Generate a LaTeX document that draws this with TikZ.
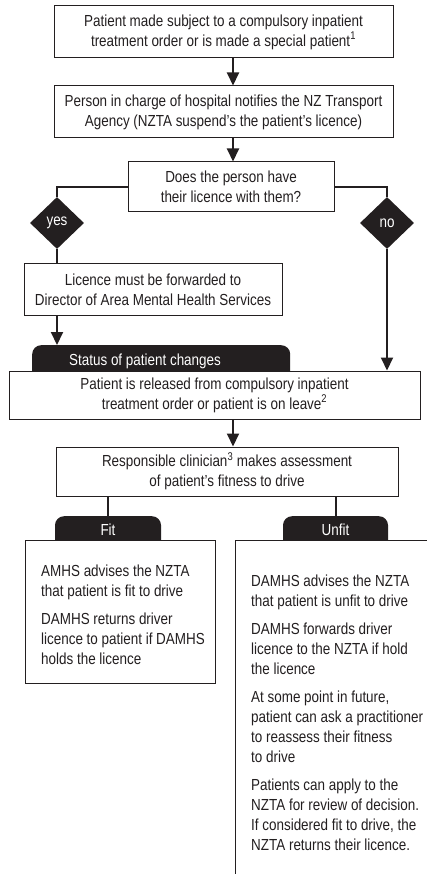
\documentclass[tikz,border=0pt]{standalone}
\usepackage{fontspec}
\setmainfont{Liberation Sans}[FakeStretch=0.84]
\usetikzlibrary{arrows.meta,shapes.geometric}
\definecolor{inkdark}{HTML}{231F20}
\newcommand\flowfont{\fontsize{16}{20}\selectfont}

\begin{document}
\begin{tikzpicture}[x=1pt,y=-1pt,>={Triangle[width=12pt,length=13pt]},
    box/.style={draw=inkdark,line width=1pt,fill=white,align=center,inner sep=0pt,text=inkdark,font=\flowfont},
    decision/.style={diamond,fill=inkdark,text=white,minimum width=54pt,minimum height=52pt,inner sep=0pt,font=\flowfont},
    tab/.style={fill=inkdark,text=white,rounded corners=9pt,inner ysep=0pt,font=\flowfont},
    listtext/.style={align=left,inner sep=0pt,text=inkdark,font=\flowfont},
    link/.style={draw=inkdark,line width=2pt}]

        % Page frame (pixels of the reference, y downwards)
        \useasboundingbox (0,0) rectangle (427,874);
        \clip (0,0) rectangle (427,874);
        \coordinate (axis) at (233,0);

        % Main column
        \node[box,minimum width=339pt,minimum height=52pt] (order) at (223.5,32)
            {Patient made subject to a compulsory inpatient\\treatment order or is made a special patient\textsuperscript{1}};
        \node[box,minimum width=339pt,minimum height=52pt] (notify) at (223.5,112)
            {Person in charge of hospital notifies the NZ Transport\\Agency (NZTA suspend’s the patient’s licence)};
        \node[box,minimum width=206pt,minimum height=50pt] (query) at (231,187)
            {Does the person have\\their licence with them?};

        % Decisions
        \node[decision] (yes) at (57,223) {yes};
        \node[decision] (no) at (387,223) {no};

        \node[box,minimum width=258pt,minimum height=51pt] (forward) at (153,289.5)
            {Licence must be forwarded to\\Director of Area Mental Health Services};

        % Tab drawn first, box covers its lower part
        \node[tab,anchor=north west,text width=184pt,align=flush left,inner xsep=37pt,
              text height=20pt,text depth=20pt] (status) at (32,345) {Status of patient changes};
        \node[box,minimum width=411pt,minimum height=48pt] (release) at (214.5,395)
            {Patient is released from compulsory inpatient\\treatment order or patient is on leave\textsuperscript{2}};

        \node[box,minimum width=342pt,minimum height=49pt] (assess) at (227,471.5)
            {Responsible clinician\textsuperscript{3} makes assessment\\of patient’s fitness to drive};

        % Outcomes
        \node[tab,anchor=north,minimum width=106pt,text height=19pt,text depth=16pt] (fit) at (108,516) {Fit};
        \node[tab,anchor=north,minimum width=105pt,text height=19pt,text depth=16pt] (unfit) at (335.5,516) {Unfit};
        \node[box,anchor=north west,minimum width=190pt,minimum height=143pt] (fitbox) at (25,540) {};
        \node[box,anchor=north west,minimum width=200pt,minimum height=350pt] (unfitbox) at (235,540) {};

        \node[listtext,anchor=north west] (fittext) at (41,565)
            {AMHS advises the NZTA\\that patient is fit to drive\\[8pt]
             DAMHS returns driver\\licence to patient if DAMHS\\holds the licence};
        \node[listtext,anchor=north west] (unfittext) at (251,575)
            {DAMHS advises the NZTA\\that patient is unfit to drive\\[8pt]
             DAMHS forwards driver\\licence to the NZTA if hold\\the licence\\[8pt]
             At some point in future,\\patient can ask a practitioner\\to reassess their fitness\\to drive\\[8pt]
             Patients can apply to the\\NZTA for review of decision.\\If considered fit to drive, the\\NZTA returns their licence.};

        % Connectors
        \draw[link,->] (order.south -| axis) -- (notify.north -| axis);
        \draw[link,->] (notify.south -| axis) -- (query.north -| axis);
        \draw[link] (query.west) -| (yes.north);
        \draw[link] (query.east) -| (no.north);
        \draw[link] (yes.south) -- (forward.north -| yes.south);
        \draw[link,->] (forward.south -| yes.south) -- (status.north -| yes.south);
        \draw[link,->] (no.south) -- (release.north -| no.south);
        \draw[link,->] (release.south -| axis) -- (assess.north -| axis);
        \draw[link] (assess.south -| fit.north) -- (fit.north);
        \draw[link] (assess.south -| unfit.north) -- (unfit.north);

\end{tikzpicture}
\end{document}
